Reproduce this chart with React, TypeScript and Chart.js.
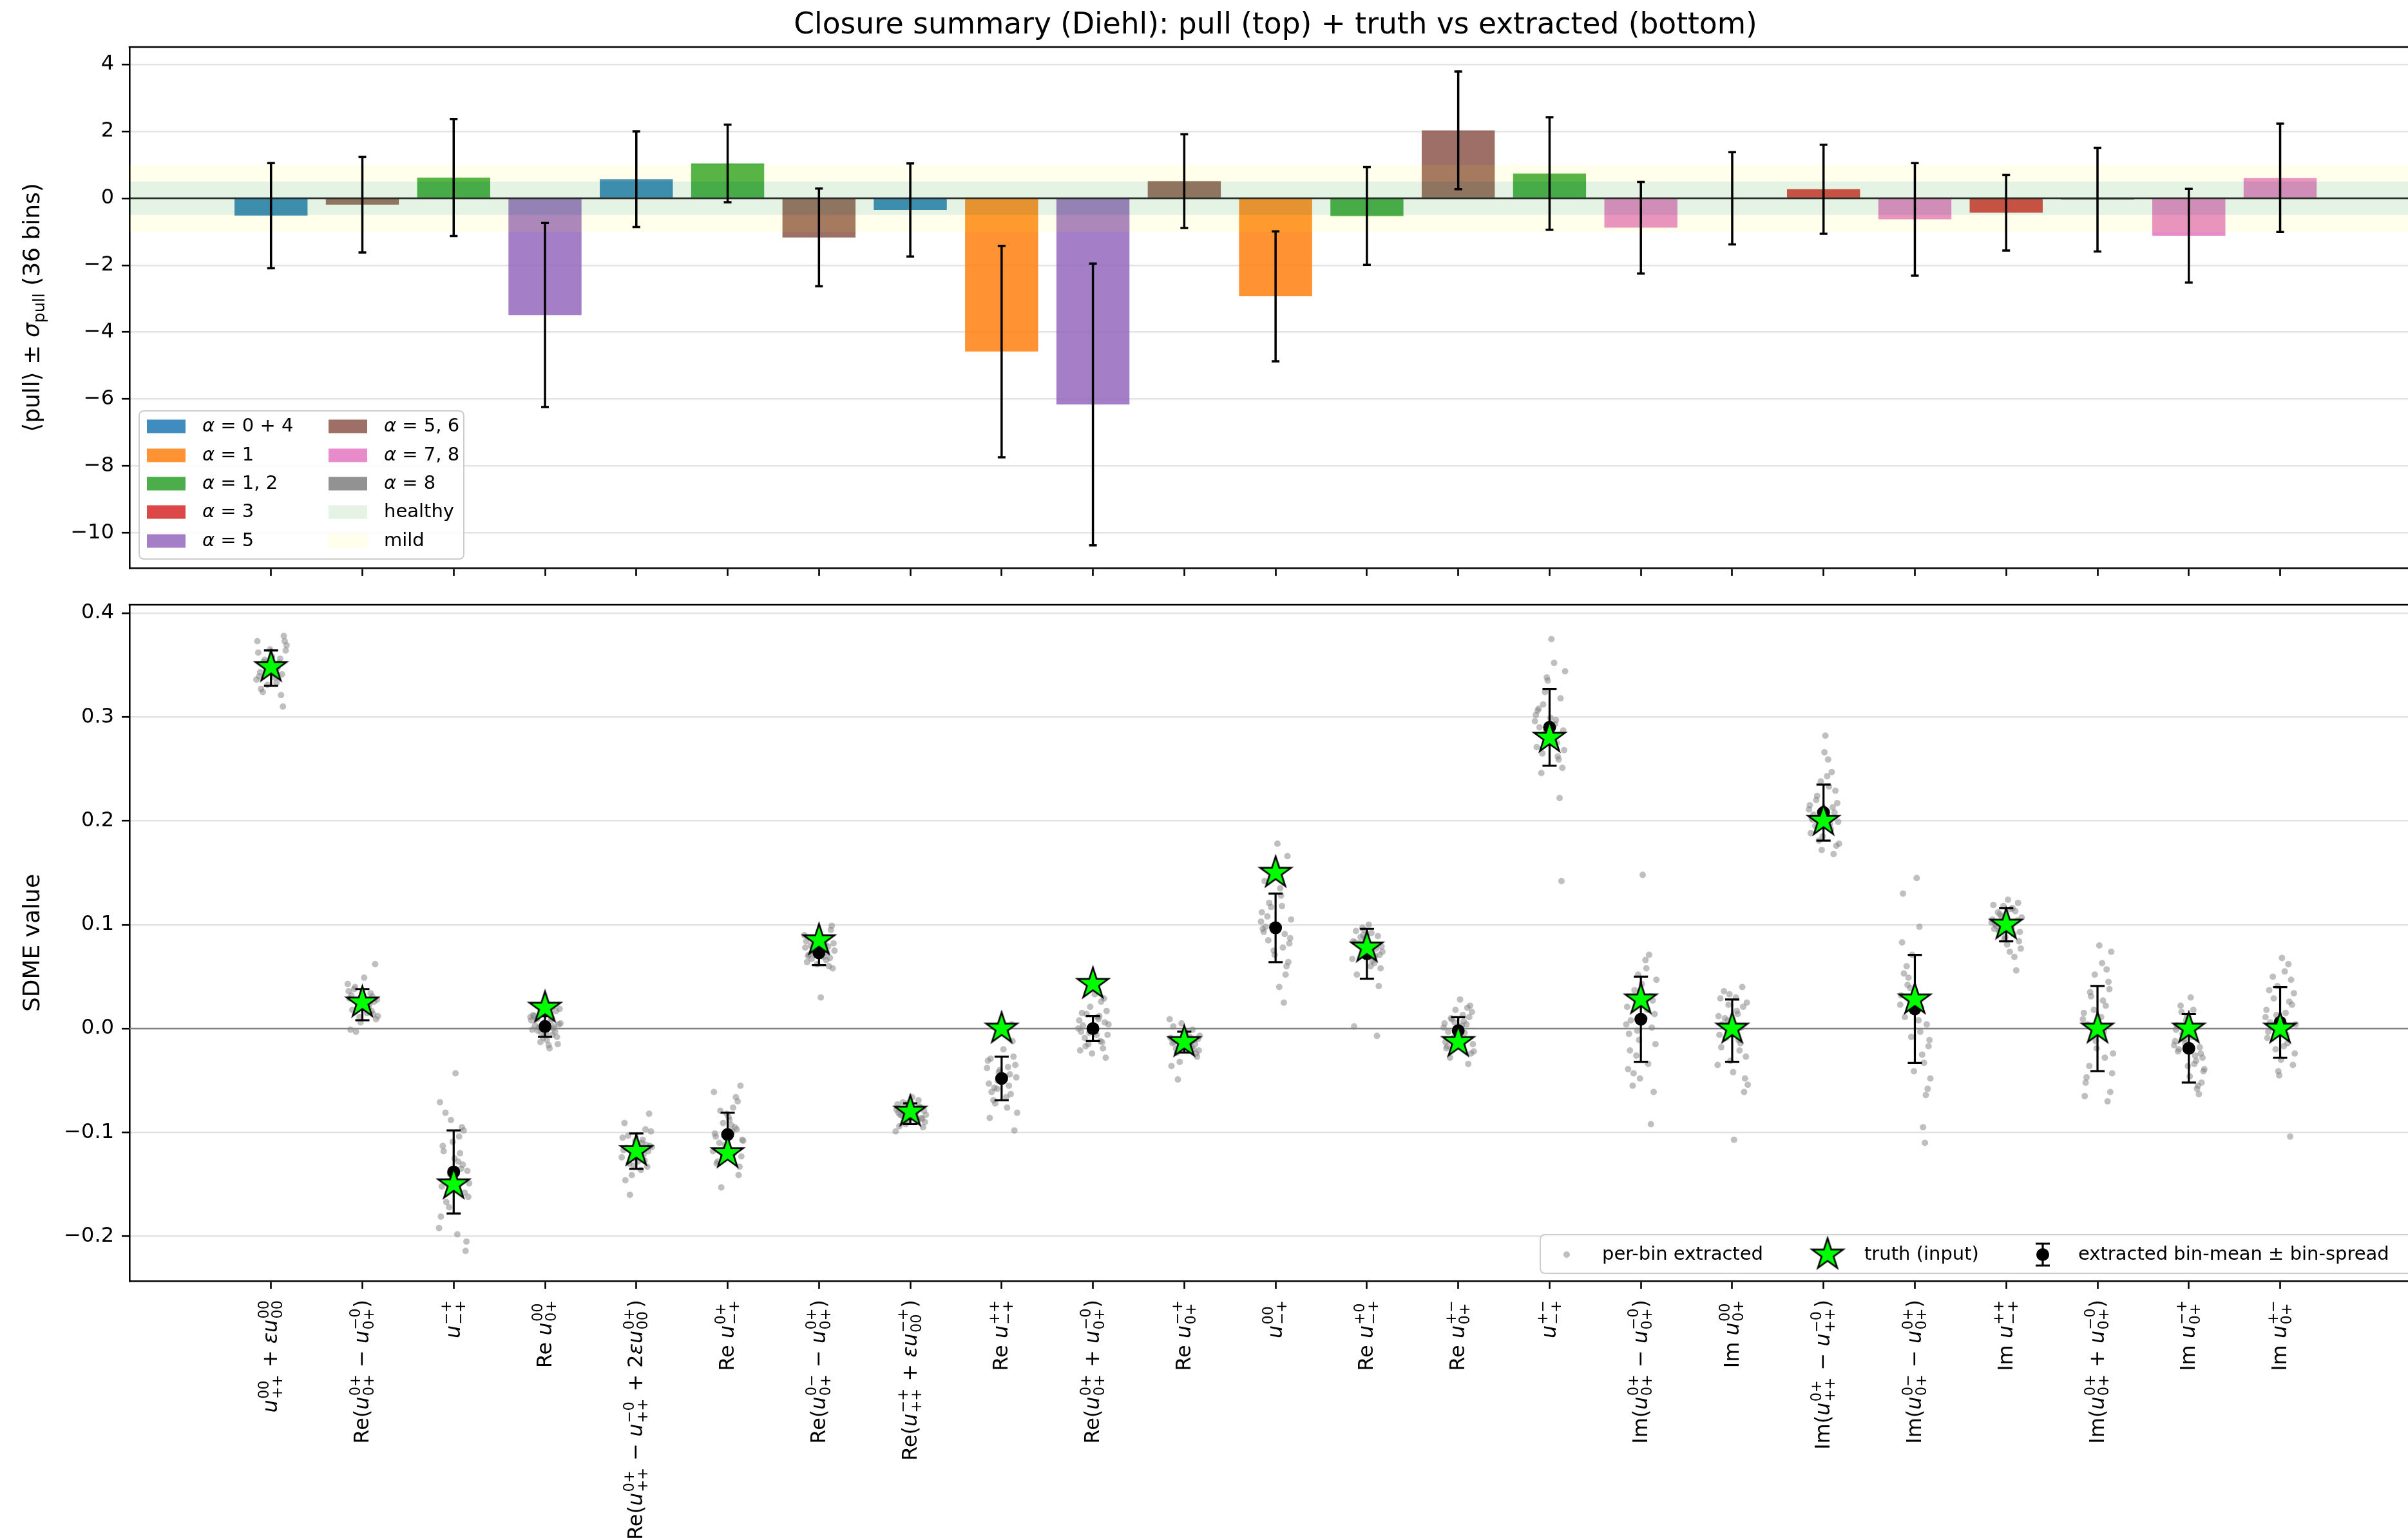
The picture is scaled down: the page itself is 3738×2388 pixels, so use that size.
import React, { useEffect, useRef } from "react";
import { Chart, registerables } from "chart.js";

Chart.register(...registerables);

const FONT = '"DejaVu Sans", "Liberation Sans", sans-serif';
Chart.defaults.font.family = FONT;

// ---------------- data ----------------
const SDME_LABELS = [
  "u^{00}_{++} + εu^{00}_{00}",
  "Re(u^{0+}_{0+} − u^{−0}_{0+})",
  "u^{−+}_{−+}",
  "Re u^{00}_{0+}",
  "Re(u^{0+}_{++} − u^{−0}_{++} + 2εu^{0+}_{00})",
  "Re u^{0+}_{−+}",
  "Re(u^{0−}_{0+} − u^{0+}_{0+})",
  "Re(u^{−+}_{++} + εu^{−+}_{00})",
  "Re u^{++}_{−+}",
  "Re(u^{0+}_{0+} + u^{−0}_{0+})",
  "Re u^{−+}_{0+}",
  "u^{00}_{−+}",
  "Re u^{+0}_{−+}",
  "Re u^{+−}_{0+}",
  "u^{+−}_{−+}",
  "Im(u^{0+}_{0+} − u^{−0}_{0+})",
  "Im u^{00}_{0+}",
  "Im(u^{0+}_{++} − u^{−0}_{++})",
  "Im(u^{0−}_{0+} − u^{0+}_{0+})",
  "Im u^{++}_{−+}",
  "Im(u^{0+}_{0+} + u^{−0}_{0+})",
  "Im u^{−+}_{0+}",
  "Im u^{+−}_{0+}",
];

// top panel: mean pull and its spread per SDME
const PULL = [-0.52, -0.19, 0.62, -3.49, 0.57, 1.04, -1.17, -0.35, -4.58, -6.16, 0.51, -2.93, -0.53, 2.03, 0.74, -0.88, 0.0, 0.27, -0.63, -0.43, -0.04, -1.12, 0.61];
const PULL_ERR = [1.57, 1.43, 1.75, 2.75, 1.43, 1.16, 1.46, 1.39, 3.16, 4.21, 1.4, 1.94, 1.46, 1.76, 1.68, 1.37, 1.38, 1.33, 1.68, 1.13, 1.55, 1.4, 1.62];
const GROUP_NAMES = ["0 + 4", "1", "1, 2", "3", "5", "5, 6", "7, 8", "8"];
const GROUP_COLORS = ["#1f77b4", "#ff7f0e", "#2ca02c", "#d62728", "#9467bd", "#8c564b", "#e377c2", "#7f7f7f"];
const ALPHA_GROUP = [0, 5, 2, 4, 0, 2, 5, 0, 1, 4, 5, 1, 2, 5, 2, 6, 7, 3, 6, 3, 7, 6, 6];
const PULL_TICKS = [-10, -8, -6, -4, -2, 0, 2, 4];
const HEALTHY_LIMIT = 0.5;
const MILD_LIMIT = 1.0;

// bottom panel
const TRUTH = [0.348, 0.025, -0.15, 0.02, -0.118, -0.12, 0.085, -0.08, 0.0, 0.043, -0.013, 0.15, 0.078, -0.013, 0.28, 0.028, 0.0, 0.2, 0.028, 0.1, 0.0, 0.0, 0.0];
const EXTRACTED_MEAN = [0.347, 0.023, -0.138, 0.002, -0.118, -0.102, 0.073, -0.082, -0.048, 0.0, -0.013, 0.097, 0.072, -0.002, 0.29, 0.009, -0.002, 0.208, 0.019, 0.1, 0.0, -0.019, 0.006];
const BIN_SPREAD = [0.017, 0.015, 0.04, 0.01, 0.017, 0.021, 0.012, 0.01, 0.021, 0.012, 0.01, 0.033, 0.024, 0.013, 0.037, 0.041, 0.03, 0.027, 0.052, 0.016, 0.041, 0.033, 0.034];
const SDME_TICKS = [-0.2, -0.1, 0.0, 0.1, 0.2, 0.3, 0.4];

const JITTER = [-0.15, 0.08, -0.03, 0.14, -0.11, 0.02, 0.16, -0.07, 0.11, -0.16, 0.05, -0.01, 0.13, -0.13, 0.09, -0.05, 0.15, -0.09, 0.01, 0.12, -0.14, 0.06, -0.02, 0.10, -0.12, 0.04, 0.17, -0.08, 0.07, -0.04];

const PER_BIN = [
  [0.373, 0.351, 0.344, 0.378, 0.327, 0.342, 0.364, 0.355, 0.321, 0.336, 0.348, 0.365, 0.310, 0.339, 0.352, 0.346, 0.373, 0.324, 0.358, 0.341, 0.362, 0.333, 0.349, 0.356, 0.343, 0.338, 0.369, 0.353, 0.347, 0.331],
  [0.036, 0.024, 0.011, 0.062, 0.018, 0.049, 0.028, -0.003, 0.031, 0.043, 0.015, 0.021, 0.026, -0.001, 0.034, 0.019, 0.009, 0.038, 0.022, 0.014, 0.029, 0.027, 0.006, 0.017, 0.032, 0.024, 0.012, 0.040, 0.020, 0.025],
  [-0.071, -0.135, -0.088, -0.205, -0.118, -0.043, -0.162, -0.147, -0.098, -0.192, -0.128, -0.109, -0.214, -0.152, -0.095, -0.172, -0.137, -0.081, -0.125, -0.158, -0.181, -0.104, -0.142, -0.131, -0.113, -0.198, -0.149, -0.167, -0.120, -0.140],
  [0.008, -0.006, 0.015, -0.015, 0.003, -0.011, 0.019, 0.001, -0.003, 0.011, -0.019, 0.006, -0.008, 0.013, 0.000, -0.013, 0.004, 0.009, -0.005, 0.017, -0.001, 0.007, -0.009, 0.002, 0.012, -0.016, 0.005, -0.002, 0.010, -0.004],
  [-0.105, -0.121, -0.132, -0.082, -0.115, -0.128, -0.099, -0.160, -0.112, -0.124, -0.136, -0.108, -0.118, -0.091, -0.127, -0.141, -0.113, -0.103, -0.122, -0.133, -0.117, -0.110, -0.125, -0.097, -0.146, -0.119, -0.114, -0.130, -0.107, -0.123],
  [-0.061, -0.095, -0.112, -0.055, -0.128, -0.088, -0.107, -0.153, -0.070, -0.118, -0.099, -0.082, -0.133, -0.104, -0.066, -0.091, -0.123, -0.110, -0.085, -0.141, -0.101, -0.076, -0.115, -0.097, -0.130, -0.093, -0.108, -0.079, -0.120, -0.103],
  [0.078, 0.066, 0.085, 0.099, 0.071, 0.030, 0.082, 0.074, 0.060, 0.090, 0.069, 0.077, 0.095, 0.064, 0.073, 0.087, 0.058, 0.080, 0.072, 0.068, 0.084, 0.076, 0.062, 0.079, 0.070, 0.088, 0.075, 0.067, 0.081, 0.071],
  [-0.078, -0.088, -0.072, -0.095, -0.083, -0.066, -0.090, -0.080, -0.076, -0.099, -0.085, -0.074, -0.087, -0.081, -0.069, -0.092, -0.079, -0.084, -0.077, -0.086, -0.073, -0.082, -0.089, -0.075, -0.094, -0.080, -0.083, -0.071, -0.087, -0.081],
  [-0.031, -0.055, -0.042, -0.098, -0.061, -0.020, -0.047, -0.072, 0.004, -0.038, -0.066, -0.051, -0.027, -0.086, -0.044, -0.058, -0.035, -0.069, -0.049, -0.012, -0.053, -0.076, -0.040, -0.063, -0.029, -0.046, -0.081, -0.057, -0.037, -0.050],
  [0.008, -0.012, 0.021, -0.028, 0.003, 0.033, -0.006, 0.014, -0.019, 0.000, 0.011, -0.024, 0.006, -0.003, 0.026, -0.015, 0.017, -0.009, 0.002, 0.029, -0.021, 0.009, -0.001, -0.013, 0.015, -0.006, 0.004, -0.017, 0.012, -0.004],
  [-0.009, -0.018, 0.005, -0.027, -0.013, -0.003, -0.021, -0.049, -0.011, 0.009, -0.016, -0.006, -0.024, -0.014, -0.001, -0.032, -0.010, -0.019, -0.004, -0.015, -0.036, -0.008, -0.012, -0.020, 0.002, -0.017, -0.007, -0.023, -0.013, -0.011],
  [0.112, 0.078, 0.145, 0.064, 0.098, 0.178, 0.087, 0.121, 0.052, 0.103, 0.135, 0.071, 0.166, 0.093, 0.025, 0.117, 0.082, 0.108, 0.157, 0.060, 0.096, 0.128, 0.075, 0.091, 0.142, 0.040, 0.105, 0.085, 0.118, 0.099],
  [0.084, 0.063, 0.095, 0.071, 0.052, 0.100, 0.079, 0.088, -0.007, 0.067, 0.092, 0.076, 0.041, 0.083, 0.070, 0.097, 0.058, 0.081, 0.073, 0.089, 0.002, 0.065, 0.086, 0.077, 0.094, 0.060, 0.074, 0.082, 0.069, 0.090],
  [0.005, -0.011, 0.018, -0.024, -0.003, 0.028, -0.015, 0.009, -0.034, 0.001, 0.013, -0.007, 0.022, -0.019, 0.004, -0.009, 0.016, -0.028, -0.001, 0.011, -0.013, 0.007, -0.005, 0.020, -0.017, 0.003, -0.022, 0.010, -0.004, 0.006],
  [0.302, 0.275, 0.338, 0.251, 0.290, 0.375, 0.268, 0.312, 0.222, 0.296, 0.352, 0.283, 0.142, 0.306, 0.262, 0.324, 0.287, 0.246, 0.299, 0.318, 0.271, 0.293, 0.335, 0.259, 0.308, 0.280, 0.344, 0.265, 0.297, 0.286],
  [0.021, -0.034, 0.052, -0.061, 0.008, 0.148, -0.015, 0.037, -0.092, 0.004, 0.066, -0.048, 0.027, -0.005, 0.071, -0.026, 0.014, -0.055, 0.043, 0.001, -0.039, 0.058, -0.011, 0.031, -0.021, 0.010, 0.047, -0.043, 0.018, -0.002],
  [0.012, -0.021, 0.033, -0.048, 0.004, -0.107, 0.025, -0.009, 0.040, -0.035, 0.017, -0.002, -0.061, 0.029, -0.014, 0.008, -0.027, 0.036, -0.042, 0.021, -0.006, 0.014, -0.031, 0.001, -0.018, 0.030, -0.054, 0.010, -0.011, 0.023],
  [0.215, 0.192, 0.238, 0.176, 0.206, 0.282, 0.199, 0.224, 0.168, 0.211, 0.259, 0.185, 0.229, 0.203, 0.247, 0.181, 0.217, 0.195, 0.266, 0.208, 0.188, 0.233, 0.172, 0.213, 0.201, 0.243, 0.178, 0.220, 0.197, 0.209],
  [0.032, -0.025, 0.071, -0.058, 0.011, 0.145, -0.011, 0.049, -0.110, 0.023, 0.098, -0.041, 0.004, 0.130, -0.095, 0.039, -0.017, 0.060, 0.016, -0.064, 0.083, -0.003, 0.027, -0.033, 0.053, 0.008, -0.048, 0.042, 0.020, -0.008],
  [0.105, 0.091, 0.118, 0.084, 0.099, 0.124, 0.077, 0.110, 0.056, 0.102, 0.115, 0.088, 0.121, 0.096, 0.069, 0.108, 0.093, 0.112, 0.081, 0.104, 0.119, 0.097, 0.086, 0.113, 0.101, 0.074, 0.107, 0.094, 0.116, 0.100],
  [0.015, -0.028, 0.052, -0.061, 0.004, 0.080, -0.043, 0.031, -0.070, 0.009, 0.063, -0.019, 0.038, -0.052, 0.022, -0.007, 0.074, -0.036, 0.001, 0.045, -0.065, 0.027, -0.012, 0.057, -0.047, 0.011, -0.024, 0.035, -0.003, 0.018],
  [-0.012, -0.031, 0.008, -0.052, -0.020, 0.030, -0.041, -0.005, -0.063, -0.016, 0.018, -0.036, -0.024, 0.003, -0.058, -0.010, -0.028, 0.022, -0.046, -0.018, -0.001, -0.034, 0.012, -0.055, -0.022, -0.008, -0.039, 0.016, -0.026, -0.014],
  [0.018, -0.014, 0.041, -0.035, 0.006, 0.068, -0.024, 0.029, -0.104, 0.011, 0.055, -0.045, 0.023, -0.003, 0.062, -0.020, 0.034, 0.001, -0.030, 0.047, -0.009, 0.015, -0.041, 0.026, 0.037, -0.017, 0.004, 0.050, -0.006, 0.013],
];

const TITLE = "Closure summary (Diehl): pull (top) + truth vs extracted (bottom)";

// ---------------- layout ----------------
const W = 3738;
const H = 2388;
const TOP_H = 930;
const BOT_Y = 900;
const BOT_H = H - BOT_Y;
const PLOT_LEFT = 201;
const X_MIN = -1.55;
const X_MAX = 23.4;

const TICK_FONT = 32;
const LEGEND_FONT = 29;
const LABEL_FONT = 36;

const HEALTHY_FILL = "rgba(44,160,44,0.12)";
const MILD_FILL = "rgba(255,255,0,0.075)";

function hexA(hex: string, a: number) {
  const n = parseInt(hex.slice(1), 16);
  return `rgba(${(n >> 16) & 255},${(n >> 8) & 255},${n & 255},${a})`;
}
const minus = (s: string) => s.replace("-", "\u2212");

// ---- mini mathtext ----
type Seg = { kind: "n" | "i"; s: string } | { kind: "u"; sup: string; sub: string };
function parseMath(str: string): Seg[] {
  const out: Seg[] = [];
  const pushText = (t: string) => {
    let buf = "";
    for (const ch of t) {
      if (ch === "ε") {
        if (buf) out.push({ kind: "n", s: buf });
        buf = "";
        out.push({ kind: "i", s: ch });
      } else buf += ch;
    }
    if (buf) out.push({ kind: "n", s: buf });
  };
  const re = /u\^\{([^}]*)\}_\{([^}]*)\}/g;
  let last = 0;
  let m: RegExpExecArray | null;
  while ((m = re.exec(str))) {
    pushText(str.slice(last, m.index));
    out.push({ kind: "u", sup: m[1], sub: m[2] });
    last = re.lastIndex;
  }
  pushText(str.slice(last));
  return out;
}

function drawMathRotated(ctx: CanvasRenderingContext2D, str: string, x: number, yTop: number, size: number) {
  const fN = `${size}px ${FONT}`;
  const fI = `italic ${size}px ${FONT}`;
  const fS = `${(size * 0.7).toFixed(1)}px ${FONT}`;
  const items: { x: number; f: string; t: string; dy: number }[] = [];
  let w = 0;
  for (const seg of parseMath(str)) {
    if (seg.kind === "u") {
      ctx.font = fI;
      items.push({ x: w, f: fI, t: "u", dy: 0 });
      w += ctx.measureText("u").width + size * 0.04;
      ctx.font = fS;
      const ws = ctx.measureText(seg.sup).width;
      const wb = ctx.measureText(seg.sub).width;
      items.push({ x: w, f: fS, t: seg.sup, dy: -0.42 * size });
      items.push({ x: w, f: fS, t: seg.sub, dy: 0.24 * size });
      w += Math.max(ws, wb) + size * 0.03;
    } else {
      const f = seg.kind === "i" ? fI : fN;
      ctx.font = f;
      items.push({ x: w, f, t: seg.s, dy: 0 });
      w += ctx.measureText(seg.s).width;
    }
  }
  ctx.save();
  ctx.translate(x, yTop);
  ctx.rotate(-Math.PI / 2);
  ctx.fillStyle = "#000";
  ctx.textAlign = "left";
  ctx.textBaseline = "alphabetic";
  const base = size * 0.3;
  for (const it of items) {
    ctx.font = it.f;
    ctx.fillText(it.t, -w + it.x, base + it.dy);
  }
  ctx.restore();
}

function makeStar(R: number, fill: string) {
  const c = document.createElement("canvas");
  const s = Math.ceil(R * 2 + 8);
  c.width = s;
  c.height = s;
  const g = c.getContext("2d")!;
  const cx = s / 2;
  const cy = s / 2;
  g.beginPath();
  for (let k = 0; k < 10; k++) {
    const r = k % 2 === 0 ? R : R * 0.382;
    const a = -Math.PI / 2 + (k * Math.PI) / 5;
    const px = cx + r * Math.cos(a);
    const py = cy + r * Math.sin(a);
    if (k === 0) g.moveTo(px, py);
    else g.lineTo(px, py);
  }
  g.closePath();
  g.fillStyle = fill;
  g.fill();
  g.lineWidth = 2.6;
  g.strokeStyle = "#000";
  g.lineJoin = "miter";
  g.stroke();
  return c;
}

function roundRect(ctx: CanvasRenderingContext2D, x: number, y: number, w: number, h: number, r: number) {
  ctx.beginPath();
  ctx.moveTo(x + r, y);
  ctx.lineTo(x + w - r, y);
  ctx.quadraticCurveTo(x + w, y, x + w, y + r);
  ctx.lineTo(x + w, y + h - r);
  ctx.quadraticCurveTo(x + w, y + h, x + w - r, y + h);
  ctx.lineTo(x + r, y + h);
  ctx.quadraticCurveTo(x, y + h, x, y + h - r);
  ctx.lineTo(x, y + r);
  ctx.quadraticCurveTo(x, y, x + r, y);
  ctx.closePath();
}

function drawTopSpine(chart: any) {
  const { ctx, chartArea: a } = chart;
  ctx.save();
  ctx.strokeStyle = "#000";
  ctx.lineWidth = 2.6;
  ctx.beginPath();
  ctx.moveTo(a.left - 1.3, a.top);
  ctx.lineTo(a.right, a.top);
  ctx.stroke();
  ctx.restore();
}

const xScaleBase = (height: number) => ({
  type: "linear" as const,
  min: X_MIN,
  max: X_MAX,
  offset: false,
  grid: { display: true, drawOnChartArea: false, offset: false, drawTicks: true, tickLength: 12, tickWidth: 2.6, tickColor: "#000" },
  border: { display: true, color: "#000", width: 2.6 },
  ticks: { display: false },
  afterBuildTicks: (s: any) => {
    s.ticks = SDME_LABELS.map((_, i) => ({ value: i }));
  },
  afterFit: (s: any) => {
    s.height = height;
  },
});

const yScaleBase = (min: number, max: number, ticks: number[], fmt: (v: number) => string) => ({
  type: "linear" as const,
  min,
  max,
  afterBuildTicks: (s: any) => {
    s.ticks = ticks.map((v) => ({ value: v }));
  },
  afterFit: (s: any) => {
    s.width = PLOT_LEFT;
  },
  grid: { color: "#e3e3e3", lineWidth: 2.4, tickLength: 12, tickWidth: 2.6, tickColor: "#000" },
  border: { display: true, color: "#000", width: 2.6 },
  ticks: { color: "#000", font: { size: TICK_FONT, family: FONT }, padding: 12, autoSkip: false, callback: (v: any) => fmt(Number(v)) },
});

export default function App() {
  const topRef = useRef<HTMLCanvasElement>(null);
  const botRef = useRef<HTMLCanvasElement>(null);

  useEffect(() => {
    const star = makeStar(25.5, "#00ff00");

    // ---------- top chart ----------
    const topPlugin = {
      id: "topDecor",
      afterDatasetsDraw(chart: any) {
        const { ctx, chartArea: a, scales } = chart;
        const x = scales.x;
        const y = scales.y;
        ctx.save();
        ctx.beginPath();
        ctx.rect(a.left, a.top, a.right - a.left, a.bottom - a.top);
        ctx.clip();
        const band = (v1: number, v2: number, c: string) => {
          const p1 = y.getPixelForValue(v1);
          const p2 = y.getPixelForValue(v2);
          ctx.fillStyle = c;
          ctx.fillRect(a.left, Math.min(p1, p2), a.right - a.left, Math.abs(p2 - p1));
        };
        band(HEALTHY_LIMIT, MILD_LIMIT, MILD_FILL);
        band(-MILD_LIMIT, -HEALTHY_LIMIT, MILD_FILL);
        band(-HEALTHY_LIMIT, HEALTHY_LIMIT, HEALTHY_FILL);
        // zero line
        const z = y.getPixelForValue(0);
        ctx.strokeStyle = "rgba(0,0,0,0.8)";
        ctx.lineWidth = 2.6;
        ctx.beginPath();
        ctx.moveTo(a.left, z);
        ctx.lineTo(a.right, z);
        ctx.stroke();
        // error bars
        ctx.strokeStyle = "#000";
        ctx.lineWidth = 3.5;
        PULL.forEach((v, i) => {
          const px = x.getPixelForValue(i);
          const y1 = y.getPixelForValue(v + PULL_ERR[i]);
          const y2 = y.getPixelForValue(v - PULL_ERR[i]);
          ctx.beginPath();
          ctx.moveTo(px, y1);
          ctx.lineTo(px, y2);
          ctx.moveTo(px - 6, y1);
          ctx.lineTo(px + 6, y1);
          ctx.moveTo(px - 6, y2);
          ctx.lineTo(px + 6, y2);
          ctx.stroke();
        });
        ctx.restore();
      },
      afterDraw(chart: any) {
        const { ctx, chartArea: a } = chart;
        drawTopSpine(chart);
        ctx.save();
        // title
        ctx.fillStyle = "#000";
        ctx.font = `45.5px ${FONT}`;
        ctx.textAlign = "center";
        ctx.textBaseline = "alphabetic";
        ctx.fillText(TITLE, 1980, 52);
        // y label
        const fN = `${LABEL_FONT}px ${FONT}`;
        const fI = `italic ${LABEL_FONT}px ${FONT}`;
        const fS = `${LABEL_FONT * 0.7}px ${FONT}`;
        const parts = [
          { t: "\u27E8pull\u27E9 \u00B1 ", f: fN, dy: 0 },
          { t: "σ", f: fI, dy: 0 },
          { t: "pull", f: fS, dy: LABEL_FONT * 0.22 },
          { t: " (36 bins)", f: fN, dy: 0 },
        ];
        let tw = 0;
        const xs: number[] = [];
        for (const p of parts) {
          ctx.font = p.f;
          xs.push(tw);
          tw += ctx.measureText(p.t).width;
        }
        ctx.translate(48, (a.top + a.bottom) / 2);
        ctx.rotate(-Math.PI / 2);
        ctx.textAlign = "left";
        parts.forEach((p, k) => {
          ctx.font = p.f;
          ctx.fillText(p.t, -tw / 2 + xs[k], LABEL_FONT * 0.35 + p.dy);
        });
        ctx.restore();

        // legend
        ctx.save();
        roundRect(ctx, 216, 638, 504, 230, 8);
        ctx.fillStyle = "rgba(255,255,255,0.8)";
        ctx.fill();
        ctx.strokeStyle = "#cccccc";
        ctx.lineWidth = 2;
        ctx.stroke();
        const rows = [662, 707, 751, 795, 840];
        const entries: { color: string; alpha?: string; text?: string }[] = [];
        GROUP_NAMES.forEach((g, k) => entries.push({ color: hexA(GROUP_COLORS[k], 0.85), alpha: g }));
        entries.push({ color: HEALTHY_FILL, text: "healthy" });
        entries.push({ color: MILD_FILL, text: "mild" });
        entries.forEach((e, k) => {
          const col = k < 5 ? 0 : 1;
          const ry = rows[k % 5];
          const sx = col === 0 ? 228 : 510;
          const tx = col === 0 ? 314 : 596;
          ctx.fillStyle = e.color;
          ctx.fillRect(sx, ry - 10.5, 60, 21);
          ctx.fillStyle = "#000";
          ctx.textBaseline = "middle";
          ctx.textAlign = "left";
          if (e.alpha) {
            ctx.font = `italic ${LEGEND_FONT}px ${FONT}`;
            ctx.fillText("α", tx, ry);
            const aw = ctx.measureText("α").width;
            ctx.font = `${LEGEND_FONT}px ${FONT}`;
            ctx.fillText(" = " + e.alpha, tx + aw, ry);
          } else {
            ctx.font = `${LEGEND_FONT}px ${FONT}`;
            ctx.fillText(e.text!, tx, ry);
          }
        });
        ctx.restore();
      },
    };

    const topChart = new Chart(topRef.current!, {
      type: "bar",
      data: {
        datasets: [
          {
            data: PULL.map((v, i) => ({ x: i, y: v })),
            backgroundColor: ALPHA_GROUP.map((g) => hexA(GROUP_COLORS[g], 0.85)),
            borderWidth: 0,
            categoryPercentage: 1,
            barPercentage: 0.8,
          } as any,
        ],
      },
      options: {
        animation: false,
        responsive: false,
        devicePixelRatio: 1,
        layout: { autoPadding: false, padding: { top: 73, left: 0, right: 0, bottom: 0 } },
        plugins: { legend: { display: false }, tooltip: { enabled: false }, title: { display: false } },
        scales: {
          x: xScaleBase(TOP_H - 882) as any,
          y: yScaleBase(-11.05, 4.52, PULL_TICKS, (v) => minus(String(v))) as any,
        },
      } as any,
      plugins: [topPlugin],
    });

    // ---------- bottom chart ----------
    const botPlugin = {
      id: "botDecor",
      beforeDatasetsDraw(chart: any) {
        const { ctx, chartArea: a, scales } = chart;
        const z = scales.y.getPixelForValue(0);
        ctx.save();
        ctx.strokeStyle = "#808080";
        ctx.lineWidth = 2.6;
        ctx.beginPath();
        ctx.moveTo(a.left, z);
        ctx.lineTo(a.right, z);
        ctx.stroke();
        ctx.restore();
      },
      beforeDatasetDraw(chart: any, args: any) {
        if (args.index !== 1) return;
        const { ctx, scales } = chart;
        const x = scales.x;
        const y = scales.y;
        ctx.save();
        ctx.strokeStyle = "#000";
        ctx.lineWidth = 3.2;
        EXTRACTED_MEAN.forEach((m, i) => {
          const px = x.getPixelForValue(i);
          const y1 = y.getPixelForValue(m + BIN_SPREAD[i]);
          const y2 = y.getPixelForValue(m - BIN_SPREAD[i]);
          ctx.beginPath();
          ctx.moveTo(px, y1);
          ctx.lineTo(px, y2);
          ctx.moveTo(px - 11, y1);
          ctx.lineTo(px + 11, y1);
          ctx.moveTo(px - 11, y2);
          ctx.lineTo(px + 11, y2);
          ctx.stroke();
        });
        ctx.restore();
      },
      afterDraw(chart: any) {
        const { ctx, chartArea: a, scales } = chart;
        drawTopSpine(chart);
        // x tick labels (math)
        SDME_LABELS.forEach((lab, i) => {
          drawMathRotated(ctx, lab, scales.x.getPixelForValue(i), 1118, TICK_FONT);
        });
        // y label
        ctx.save();
        ctx.fillStyle = "#000";
        ctx.font = `${LABEL_FONT}px ${FONT}`;
        ctx.translate(48, (a.top + a.bottom) / 2);
        ctx.rotate(-Math.PI / 2);
        ctx.textAlign = "center";
        ctx.textBaseline = "alphabetic";
        ctx.fillText("SDME value", 0, LABEL_FONT * 0.35);
        ctx.restore();
        // legend
        ctx.save();
        roundRect(ctx, 2391, 1017, 1420, 60, 8);
        ctx.fillStyle = "rgba(255,255,255,0.8)";
        ctx.fill();
        ctx.strokeStyle = "#cccccc";
        ctx.lineWidth = 2;
        ctx.stroke();
        const ly = 1048;
        ctx.fillStyle = "rgba(128,128,128,0.5)";
        ctx.beginPath();
        ctx.arc(2432, ly, 5, 0, Math.PI * 2);
        ctx.fill();
        ctx.drawImage(star, 2837 - star.width / 2, ly - star.height / 2);
        ctx.strokeStyle = "#000";
        ctx.lineWidth = 3.2;
        ctx.beginPath();
        ctx.moveTo(3171, ly - 17);
        ctx.lineTo(3171, ly + 17);
        ctx.moveTo(3160, ly - 17);
        ctx.lineTo(3182, ly - 17);
        ctx.moveTo(3160, ly + 17);
        ctx.lineTo(3182, ly + 17);
        ctx.stroke();
        ctx.fillStyle = "#000";
        ctx.beginPath();
        ctx.arc(3171, ly, 10, 0, Math.PI * 2);
        ctx.fill();
        ctx.font = `${LEGEND_FONT}px ${FONT}`;
        ctx.textAlign = "left";
        ctx.textBaseline = "middle";
        ctx.fillText("per-bin extracted", 2487, ly);
        ctx.fillText("truth (input)", 2894, ly);
        ctx.fillText("extracted bin-mean \u00B1 bin-spread", 3226, ly);
        ctx.restore();
      },
    };

    const perBinPoints: { x: number; y: number }[] = [];
    PER_BIN.forEach((vals, i) => vals.forEach((v, k) => perBinPoints.push({ x: i + JITTER[k], y: v })));

    const botChart = new Chart(botRef.current!, {
      type: "scatter",
      data: {
        datasets: [
          {
            label: "truth (input)",
            data: TRUTH.map((v, i) => ({ x: i, y: v })),
            pointStyle: star as any,
            pointRadius: 25,
            order: 0,
          },
          {
            label: "extracted bin-mean ± bin-spread",
            data: EXTRACTED_MEAN.map((v, i) => ({ x: i, y: v })),
            pointRadius: 10,
            backgroundColor: "#000",
            borderWidth: 0,
            order: 1,
          },
          {
            label: "per-bin extracted",
            data: perBinPoints,
            pointRadius: 5,
            backgroundColor: "rgba(128,128,128,0.5)",
            borderWidth: 0,
            order: 2,
          },
        ] as any,
      },
      options: {
        animation: false,
        responsive: false,
        devicePixelRatio: 1,
        layout: { autoPadding: false, padding: { top: 39, left: 0, right: 0, bottom: 0 } },
        plugins: { legend: { display: false }, tooltip: { enabled: false }, title: { display: false } },
        scales: {
          x: xScaleBase(BOT_H - 1089) as any,
          y: yScaleBase(-0.243, 0.408, SDME_TICKS, (v) => minus(v.toFixed(1))) as any,
        },
      } as any,
      plugins: [botPlugin],
    });

    return () => {
      topChart.destroy();
      botChart.destroy();
    };
  }, []);

  return (
    <div style={{ position: "absolute", left: 0, top: 0, width: W, height: H, background: "#fff", overflow: "hidden" }}>
      <canvas ref={topRef} width={W} height={TOP_H} style={{ position: "absolute", left: 0, top: 0, width: W, height: TOP_H }} />
      <canvas ref={botRef} width={W} height={BOT_H} style={{ position: "absolute", left: 0, top: BOT_Y, width: W, height: BOT_H }} />
    </div>
  );
}
